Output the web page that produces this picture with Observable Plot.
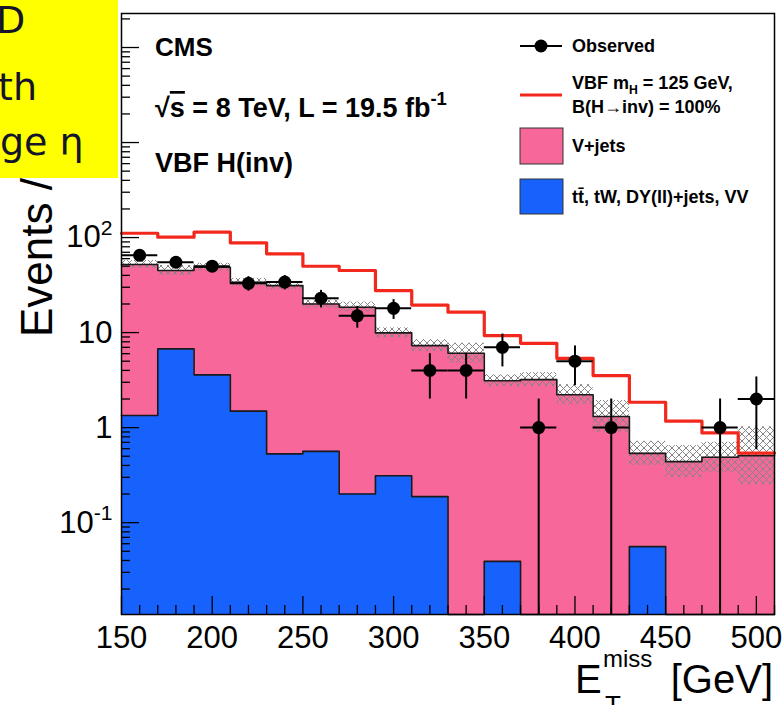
<!DOCTYPE html>
<html><head><meta charset="utf-8">
<script src="https://cdn.jsdelivr.net/npm/d3@7"></script>
<script src="https://cdn.jsdelivr.net/npm/@observablehq/plot@0.6"></script>
<style>
body{margin:0;background:#fff;}
#wrap{position:relative;width:782px;height:705px;overflow:hidden;background:#fff;}
#chart svg{display:block;}
#note{position:absolute;left:0;top:0;width:118px;height:178px;background:#ffff00;overflow:hidden;font-family:"DejaVu Sans",sans-serif;color:#14142a;}
#note span{position:absolute;white-space:nowrap;font-size:38px;line-height:1;}
</style></head><body>
<svg width="0" height="0" style="position:absolute"><defs>
<pattern id="hatch" patternUnits="userSpaceOnUse" width="7" height="7"><path d="M0,0L7,7M7,0L0,7" stroke="#858585" stroke-width="1" fill="none"/></pattern>
</defs></svg>
<div id="wrap"><div id="chart"></div>
<div id="note"><span style="left:-4px;top:1px">D</span><span style="left:-2px;top:68px">th</span><span style="left:0px;top:123px">ge η</span></div>
</div>
<script>
// ---- data ----
const binEdges = [150,170,190,210,230,250,270,290,310,330,350,370,390,410,430,450,470,490,510];
const signal   = [111,101,114,88,67.4,49.9,45.0,27.7,19.5,16.4,9.30,7.71,5.36,3.53,1.85,1.17,0.88,0.54];
const vjets    = [50.7,38.3,45.1,32.3,30.7,19.4,18.3,9.62,7.11,6.06,3.08,3.20,2.22,1.31,0.480,0.439,0.487,0.507];
const otherBkg = [1.34,6.74,3.59,1.49,0.529,0.563,0.200,0.312,0.188,0,0.0391,0,0,0,0.0559,0,0,0];
const bkgUncLo = [47.2,39.9,44.2,30.7,28.3,18.1,16.4,8.80,6.31,4.76,2.70,2.70,1.74,0.889,0.401,0.298,0.338,0.251];
const bkgUncHi = [57.3,50.8,53.7,37.2,34.4,22.0,20.9,11.2,8.45,7.72,3.61,3.79,2.83,1.93,0.717,0.647,0.701,1.02];
const observed = [65,55,50,33,34,23,15,18,4,4,7,1,5,1,0,0,1,2];

const xTicks = [150,200,250,300,350,400,450,500];
const xTickLabels = ["150","200","250","300","350","400","450","500"];
const yTicks = [0.1,1,10,100,1000,10000];
const yLabelTicks = [0.1,1,10,100];
const yTickLabels = ["10^-1","1","10","10^2"];

// ---- layout / style ----
const W = 782, H = 705, mL = 121, mR = 8, mT = 13, mB = 91;
const plotW = W - mL - mR, plotH = H - mT - mB;
const yMin = 0.0108, yMax = 22800;
const pink = "#f8679a", blue = "#1762fd", red = "#f2281c";
const font = "'Liberation Sans', Arial, Helvetica, sans-serif";

const bins = binEdges.slice(0, -1).map((lo, i) => ({
  lo, hi: binEdges[i + 1], center: (lo + binEdges[i + 1]) / 2,
  total: vjets[i] + otherBkg[i], other: otherBkg[i], sig: signal[i],
  bandLo: bkgUncLo[i], bandHi: bkgUncHi[i], n: observed[i]
}));
const floor = v => Math.max(v, yMin);
const step = acc => [...bins.map(b => ({x: b.lo, y: acc(b)})), {x: binEdges[binEdges.length - 1], y: acc(bins[bins.length - 1])}];
const obs = bins.filter(b => b.n > 0);

const xMinor = d3.range(160, 511, 10).filter(v => !xTicks.includes(v));
const yMinor = [];
for (let k = -2; k <= 4; k++) for (let m = 2; m <= 9; m++) { const v = m * Math.pow(10, k); if (v > yMin && v < yMax) yMinor.push(v); }

const chart = Plot.plot({
  width: W, height: H, marginLeft: mL, marginRight: mR, marginTop: mT, marginBottom: mB,
  style: {fontFamily: font, fontSize: "31px", background: "white", color: "black", overflow: "visible"},
  x: {domain: [150, 510], ticks: xTicks, tickSize: 0, tickPadding: 11, label: null,
      tickFormat: d => xTickLabels[xTicks.indexOf(d)]},
  y: {type: "log", domain: [yMin, yMax], ticks: yLabelTicks, tickSize: 0, tickPadding: 9, label: null,
      tickFormat: d => yTickLabels[yLabelTicks.indexOf(d)] ?? ""},
  marks: [
    Plot.areaY(step(b => b.total), {x: "x", y1: yMin, y2: "y", curve: "step-after", fill: pink}),
    Plot.areaY(step(b => floor(b.other)), {x: "x", y1: yMin, y2: "y", curve: "step-after", fill: blue}),
    Plot.rect(bins, {x1: "lo", x2: "hi", y1: "bandLo", y2: "bandHi", fill: "url(#hatch)"}),
    Plot.line(step(b => b.total), {x: "x", y: "y", curve: "step-after", stroke: "#1a1a1a", strokeWidth: 1.6}),
    Plot.line(step(b => floor(b.other)), {x: "x", y: "y", curve: "step-after", stroke: "#1a1a1a", strokeWidth: 1.6}),
    Plot.line(step(b => b.sig), {x: "x", y: "y", curve: "step-after", stroke: red, strokeWidth: 3.2}),
    Plot.ruleX(obs, {x: "center", y1: d => floor(d.n - Math.sqrt(d.n)), y2: d => d.n + Math.sqrt(d.n), stroke: "black", strokeWidth: 2}),
    Plot.ruleY(obs, {y: "n", x1: "lo", x2: "hi", stroke: "black", strokeWidth: 2}),
    Plot.dot(obs, {x: "center", y: "n", r: 6.5, fill: "black", stroke: "none"}),
    Plot.ruleX(xTicks, {x: d => d, insetTop: plotH - 18, stroke: "black", strokeWidth: 1.3}),
    Plot.ruleX(xMinor, {x: d => d, insetTop: plotH - 9, stroke: "black", strokeWidth: 1.3}),
    Plot.ruleY(yTicks, {y: d => d, insetRight: plotW - 18, stroke: "black", strokeWidth: 1.3}),
    Plot.ruleY(yMinor, {y: d => d, insetRight: plotW - 9, stroke: "black", strokeWidth: 1.3}),
    Plot.frame({stroke: "black", strokeWidth: 1.5})
  ]
});
document.getElementById("chart").appendChild(chart);

const svg = d3.select(chart);
// superscripts in tick labels
svg.selectAll("text").each(function () {
  const t = this.textContent;
  if (t.includes("^")) {
    const [base, exp] = t.split("^");
    const s = d3.select(this);
    s.text(null);
    s.append("tspan").text(base);
    s.append("tspan").attr("dy", "-0.6em").attr("font-size", "0.68em").text(exp);
  }
});

function rich(parent, x, y, size, parts, attrs = {}) {
  const t = parent.append("text").attr("x", x).attr("y", y).attr("font-size", size);
  for (const k in attrs) t.attr(k, attrs[k]);
  let shift = 0;
  for (const p of parts) {
    const want = p.sub ? 0.3 * size : p.sup ? -0.45 * size : 0;
    const ts = t.append("tspan").text(p.t).attr("dy", want - shift);
    if (p.sub || p.sup) ts.attr("font-size", size * 0.68);
    if (p.style) ts.attr("style", p.style);
    shift = want;
  }
  return t;
}

const ann = svg.append("g").attr("font-family", font).attr("fill", "black").attr("text-anchor", "start");
// CMS labels
ann.append("text").attr("x", 155).attr("y", 56).attr("font-size", 26).attr("font-weight", "bold").text("CMS");
rich(ann, 155, 117, 27, [{t: "√"}, {t: "s", style: "text-decoration: overline"}, {t: " = 8 TeV, L = 19.5 fb"}, {t: "-1", sup: true}], {"font-weight": "bold"});
ann.append("text").attr("x", 155).attr("y", 172).attr("font-size", 27).attr("font-weight", "bold").text("VBF H(inv)");

// legend
const lg = svg.append("g").attr("font-family", font).attr("font-weight", "bold").attr("font-size", 18).attr("text-anchor", "start");
lg.append("line").attr("x1", 520).attr("x2", 562).attr("y1", 46).attr("y2", 46).attr("stroke", "black").attr("stroke-width", 2);
lg.append("circle").attr("cx", 541).attr("cy", 46).attr("r", 6.5).attr("fill", "black");
lg.append("text").attr("x", 572).attr("y", 52).text("Observed");
lg.append("line").attr("x1", 520).attr("x2", 562).attr("y1", 95).attr("y2", 95).attr("stroke", red).attr("stroke-width", 3);
rich(lg, 572, 89, 18, [{t: "VBF m"}, {t: "H", sub: true}, {t: " = 125 GeV,"}]);
lg.append("text").attr("x", 572).attr("y", 113).text("B(H→inv) = 100%");
lg.append("rect").attr("x", 520).attr("y", 128).attr("width", 43).attr("height", 36).attr("fill", pink).attr("stroke", "#333").attr("stroke-width", 1);
lg.append("text").attr("x", 572).attr("y", 152).text("V+jets");
lg.append("rect").attr("x", 520).attr("y", 179).attr("width", 43).attr("height", 35).attr("fill", blue).attr("stroke", "#333").attr("stroke-width", 1);
lg.append("text").attr("x", 572).attr("y", 203).text("tt̄, tW, DY(ll)+jets, VV");

// axis titles
const at = svg.append("g").attr("font-family", font).attr("fill", "black").attr("text-anchor", "start");
at.append("text").attr("x", 575).attr("y", 693).attr("font-size", 40).text("E");
at.append("text").attr("x", 603).attr("y", 667).attr("font-size", 24).text("miss");
at.append("text").attr("x", 605).attr("y", 714).attr("font-size", 26).text("T");
at.append("text").attr("x", 773).attr("y", 693).attr("font-size", 40).attr("text-anchor", "end").text("[GeV]");
at.append("text").attr("transform", "translate(52,337) rotate(-90)").attr("font-size", 44).text("Events / 20 GeV");
</script>
</body></html>
